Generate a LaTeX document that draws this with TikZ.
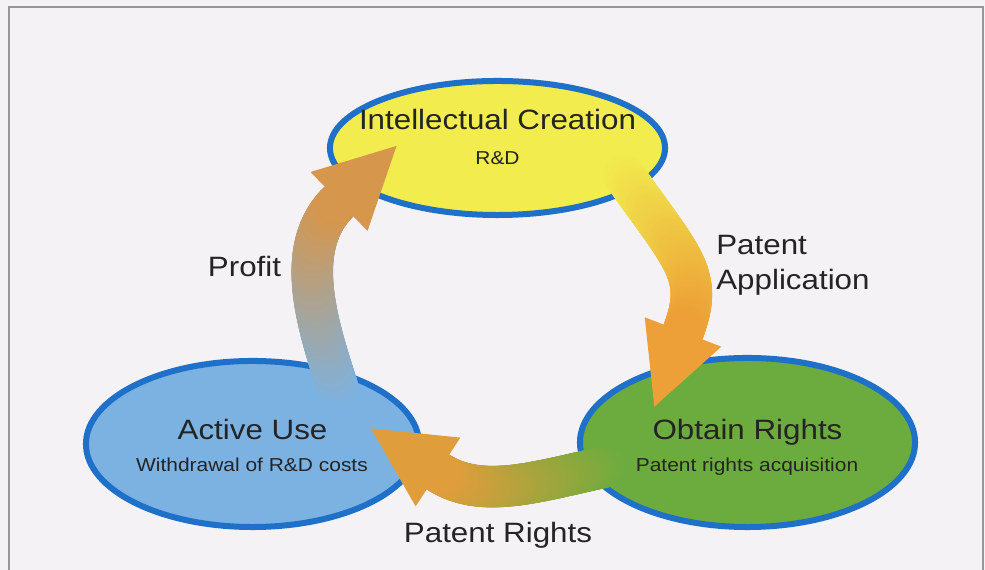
\documentclass[tikz,border=0pt]{standalone}
\usepackage{fontspec}
\setmainfont{Liberation Sans}[FakeStretch=1.12]
\usetikzlibrary{shapes.geometric, decorations.markings, calc}
\definecolor{pPaper}{RGB}{244,242,244}
\definecolor{pFrame}{RGB}{150,150,150}
\definecolor{pRim}{RGB}{30,112,200}
\definecolor{pYellow}{RGB}{242,236,78}
\definecolor{pGreen}{RGB}{108,172,62}
\definecolor{pBlue}{RGB}{124,178,226}
\definecolor{pOrange}{RGB}{237,160,55}
\definecolor{pAmber}{RGB}{224,157,60}
\definecolor{pOchre}{RGB}{214,150,76}
\definecolor{pInk}{RGB}{36,36,36}
% arrow head: base coordinate, direction, colour
\newcommand{\flowhead}[3]{%
  \fill[#3] ($(#1)+(#2+90:41)$) -- ($(#1)+(#2:80)$) -- ($(#1)+(#2-90:41)$) -- cycle;}

\begin{document}
\begin{tikzpicture}[x=0.025cm, y=0.025cm,
  blob/.style={ellipse, draw=pRim, line width=0.15cm, inner sep=0pt},
  title/.style={font=\fontsize{19.9}{25.3}\selectfont, text=pInk, inner sep=0pt},
  note/.style={font=\fontsize{13.3}{16}\selectfont, text=pInk, inner sep=0pt},
  flow/.style 2 args={decoration={markings,
      mark=between positions 0 and 1 step 0.4mm with {%
        \pgfmathsetmacro\flowmix{\pgfkeysvalueof{/pgf/decoration/mark info/distance from start}/\pgfdecoratedpathlength*100}%
        \fill[#2!\flowmix!#1] (0,0) circle (0.52cm);}},
    postaction={decorate}},
]
  \useasboundingbox (0,0) rectangle (985,570);
  \fill[pPaper] (0,0) rectangle (985,570);
  \begin{scope}
    \clip (0,0) rectangle (985,570);
    \draw[pFrame, line width=0.05cm] (9,-10) -- (9,563) -- (983,563) -- (983,-10);
  \end{scope}

  % the three stages
  \node[blob, fill=pYellow, minimum width=8.375cm, minimum height=3.35cm] (ic) at (497.5,422) {};
  \node[blob, fill=pGreen, minimum width=8.375cm, minimum height=4.225cm] (or) at (747.5,127.5) {};
  \node[blob, fill=pBlue, minimum width=8.325cm, minimum height=4.15cm] (au) at (252.5,126) {};

  % cycle arrows, each starting a little inside its stage
  \coordinate (apphead) at (683,238);
  \coordinate (rightshead) at (438,98);
  \coordinate (profithead) at (339,368.5);
  \path[flow={pYellow}{pOrange}] ($(ic.-17)+(125:20)$) .. controls +(-55:104) and +(69:62) .. (apphead);
  \flowhead{apphead}{249}{pOrange}
  \path[flow={pGreen}{pAmber}] ($(or.190)+(12:20)$) .. controls +(192:70) and +(-33:52) .. (rightshead);
  \flowhead{rightshead}{147}{pAmber}
  \path[flow={pBlue}{pOchre}] ($(au.44)+(288:20)$) .. controls +(108:67) and +(224:65) .. (profithead);
  \flowhead{profithead}{44}{pOchre}

  % texts
  \node[title, anchor=base] (ictitle) at (497.5,440) {Intellectual Creation};
  \node[note, anchor=base] (icnote) at (497.5,405) {R\&D};
  \node[title, anchor=base] (ortitle) at (747.5,130) {Obtain Rights};
  \node[note, anchor=base] (ornote) at (747,98) {Patent rights acquisition};
  \node[title, anchor=base] (autitle) at (252.5,130) {Active Use};
  \node[note, anchor=base] (aunote) at (252,98) {Withdrawal of R\&D costs};
  \node[title, anchor=base west, align=left] (applabel) at (716,280) {Patent\\Application};
  \node[title, anchor=base] (profitlabel) at (244.5,293) {Profit};
  \node[title, anchor=base] (rightslabel) at (498,27) {Patent Rights};
\end{tikzpicture}
\end{document}
